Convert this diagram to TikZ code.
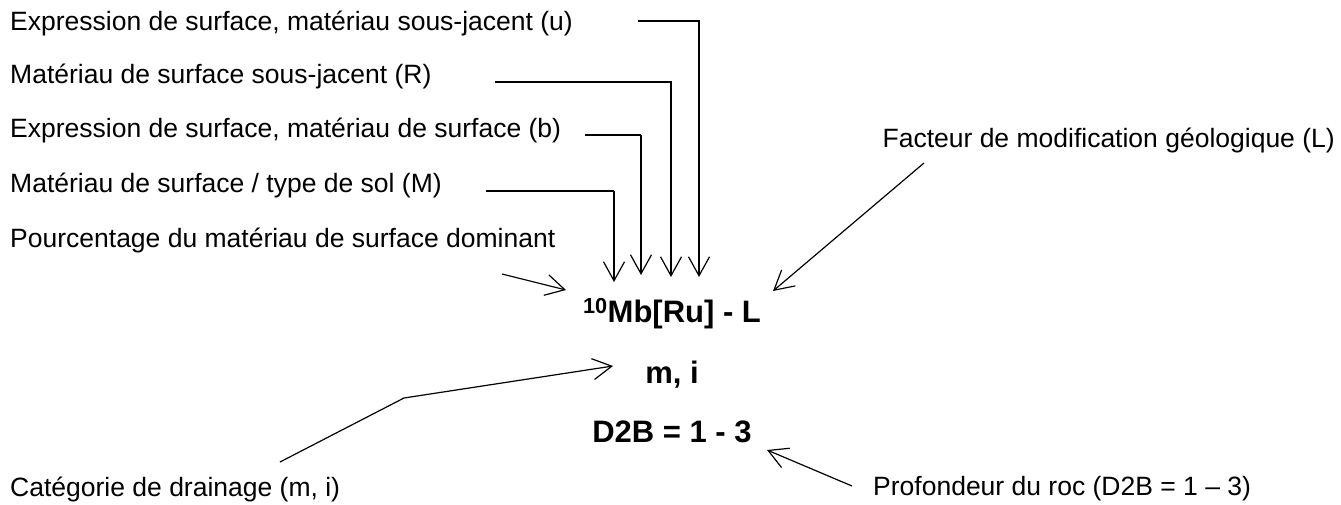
\documentclass[tikz,border=0pt]{standalone}
\usepackage{fontspec}
\setmainfont{Liberation Sans}
\usetikzlibrary{arrows.meta}
\begin{document}
\begin{tikzpicture}[x=1pt,y=-1pt,
  lbl/.style={anchor=west,inner sep=0pt,font=\fontsize{26.5}{30}\selectfont},
  code/.style={inner sep=0pt,font=\fontsize{31}{36}\selectfont\bfseries},
  conn/.style={line width=1.2pt,-{Straight Barb[length=19pt,width=21pt,line width=1.2pt]}},
  heavy/.style={line width=2.5pt}]
\useasboundingbox (0,0) rectangle (1341,505);
\node[lbl] (u) at (10,23) {Expression de surface, matériau sous-jacent (u)};
\node[lbl] (R) at (10,76) {Matériau de surface sous-jacent (R)};
\node[lbl] (b) at (10,130) {Expression de surface, matériau de surface (b)};
\node[lbl] (M) at (10,185) {Matériau de surface / type de sol (M)};
\node[lbl] (P) at (10,240) {Pourcentage du matériau de surface dominant};
\node[lbl,anchor=east] (L) at (1335,140) {Facteur de modification géologique (L)};
\node[lbl] (C) at (10,489) {Catégorie de drainage (m, i)};
\node[lbl] (D) at (873,489) {Profondeur du roc (D2B = 1 – 3)};
\node[code] (f1) at (672,314) {\textsuperscript{10}Mb[Ru] - L};
\node[code] (f2) at (672,375) {m, i};
\node[code] (f3) at (672,432) {D2B = 1 - 3};
% coordinates
\coordinate (uS) at (638,21);  \coordinate (uT) at (699,277);
\coordinate (RS) at (495,82);  \coordinate (RT) at (671,277);
\coordinate (bS) at (585,135); \coordinate (bT) at (641,275);
\coordinate (MS) at (486,191); \coordinate (MT) at (614,282);
\coordinate (PS) at (502,274); \coordinate (PT) at (566,290);
\coordinate (LS) at (924,163); \coordinate (LT) at (773,291);
\coordinate (CS) at (280,462); \coordinate (CB) at (404,398); \coordinate (CT) at (613,366);
\coordinate (DS) at (852,486); \coordinate (DT) at (767,450);
\draw[conn] (uS) -| (uT);
\draw[conn] (RS) -| (RT);
\draw[heavy] (bS) -| (bT |- bS);
\draw[conn] (bT |- bS) -- (bT);
\draw[heavy] (MS) -| (MT |- MS);
\draw[conn] (MT |- MS) -- (MT);
\draw[conn] (PS) -- (PT);
\draw[conn] (LS) -- (LT);
\draw[conn] (CS) -- (CB) -- (CT);
\draw[conn] (DS) -- (DT);
\end{tikzpicture}
\end{document}
